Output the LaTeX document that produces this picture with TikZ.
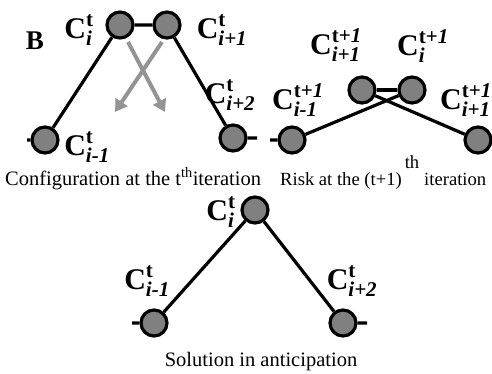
\documentclass[tikz,border=0pt]{standalone}
\usepackage{fontspec}
\usepackage{amsmath}
\setmainfont{Liberation Serif}
\usetikzlibrary{arrows.meta}
\newcommand\lab[2]{$\textbf{C}^{#1}_{#2}$}
\newcommand\tp{\textbf{t}}
\newcommand\tpo{\textbf{t}\textbf{+}\textbf{\textit{1}}}
\newcommand\sbx[1]{\textbf{\textit{#1}}}
\begin{document}
\begin{tikzpicture}[x=1pt,y=-1pt,
  dot/.style={circle,minimum size=26pt,inner sep=0pt,fill=black!50,draw=black,line width=3.2pt},
  bond/.style={line width=3.2pt,black},
  garrow/.style={line width=4pt,black!42,-{Triangle[length=12pt,width=14pt]}},
  lbl/.style={inner sep=0pt,font=\fontsize{30}{32}\selectfont},
  captxt/.style={inner sep=0pt,font=\fontsize{20.5}{22}\selectfont}]
\useasboundingbox (0,0) rectangle (492,373);
% panel 1
\node[dot] (a1) at (45,140) {};
\node[dot] (a2) at (120,25) {};
\node[dot] (a3) at (167,25) {};
\node[dot] (a4) at (233,138) {};
\coordinate (a0) at (27,140);
\coordinate (a5) at (257,138);
\draw[bond] (a0) -- (a1) -- (a2) -- (a3) -- (a4) -- (a5);
\coordinate (g1s) at (162,42); \coordinate (g1e) at (115,112);
\coordinate (g2s) at (128,42); \coordinate (g2e) at (165,112);
\draw[garrow] (g1s) -- (g1e);
\draw[garrow] (g2s) -- (g2e);
\node[inner sep=0pt,font=\fontsize{27}{29}\selectfont\bfseries] (B) at (35,41) {B};
\node[lbl] (l2) at (79,30) {\lab{\tp}{\sbx{i}}};
\node[lbl] (l3) at (222,30) {\lab{\tp}{\sbx{i+1}}};
\node[lbl] (l4) at (230,95) {\lab{\tp}{\sbx{i+2}}};
\node[lbl] (l1) at (87,147) {\lab{\tp}{\sbx{i-1}}};
\node[captxt,anchor=base west] (c1) at (5,185) {Configuration at the t\textsuperscript{th}iteration};
% panel 2
\node[dot] (b1) at (292,140) {};
\node[dot] (b2) at (362,90) {};
\node[dot] (b3) at (412,90) {};
\node[dot] (b4) at (478,140) {};
\coordinate (b0) at (270,140);
\draw[bond] (b0) -- (b1) -- (b3);
\draw[bond] (b2) -- (b3);
\draw[bond] (b2) -- (b4);
\node[lbl] (m2) at (336,45) {\lab{\tpo}{\sbx{i+1}}};
\node[lbl] (m3) at (423,46) {\lab{\tpo}{\sbx{i}}};
\node[lbl] (m1) at (298,100) {\lab{\tpo}{\sbx{i-1}}};
\node[lbl,anchor=west] (m4) at (440,100) {\lab{\tpo}{\sbx{i+1}}};
\node[captxt,anchor=base west,font=\fontsize{18.6}{20}\selectfont] (c2) at (280,185) {Risk at the (t+1)\hspace{3pt}\raisebox{17pt}{th}\hspace{5pt}iteration};
% panel 3
\node[dot] (d1) at (154,323) {};
\node[dot] (d2) at (255,210) {};
\node[dot] (d3) at (343,323) {};
\coordinate (d0) at (132,323);
\coordinate (d4) at (367,323);
\draw[bond] (d0) -- (d1) -- (d2) -- (d3) -- (d4);
\node[lbl] (n2) at (221,212) {\lab{\tp}{\sbx{i}}};
\node[lbl] (n1) at (147,281) {\lab{\tp}{\sbx{i-1}}};
\node[lbl] (n3) at (352,281) {\lab{\tp}{\sbx{i+2}}};
\node[captxt,anchor=base] (c3) at (261,366) {Solution in anticipation};
\end{tikzpicture}
\end{document}
